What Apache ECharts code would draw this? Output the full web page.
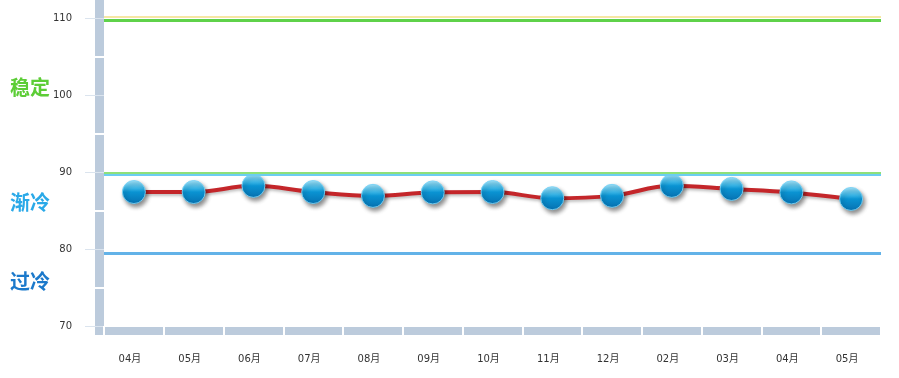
<!DOCTYPE html>
<html>
<head>
<meta charset="utf-8">
<script src="https://cdn.jsdelivr.net/npm/echarts@6/dist/echarts.min.js"></script>
<style>
  html, body { margin: 0; padding: 0; background: #fff; }
  #main { width: 899px; height: 378px; }
</style>
</head>
<body>
<div id="main"></div>
<script>
// 月份
var months = ['04月', '05月', '06月', '07月', '08月', '09月', '10月', '11月', '12月', '02月', '03月', '04月', '05月']
// 数值
var values = [87.4, 87.4, 88.2, 87.4, 86.9, 87.35, 87.4, 86.6, 86.9, 88.2, 87.8, 87.35, 86.5]
// 分区线
var lineValues = [110.1, 109.75, 89.85, 89.6, 79.5]
var lineColors = ['#f6e7a4', '#5fd24a', '#8ee07a', '#6ccdf2', '#62b2e8']
var lineWidths = [2, 3, 3, 2, 3]
// 刻度
var yMin = 70
var yMax = 120
var yStep = 10

var chart = echarts.init(document.getElementById('main'))

var barColor = '#bccbdc'
var font = '"DejaVu Sans", "Noto Sans CJK SC", sans-serif'

var markData = lineValues.map(function (v, i) {
  return {
    yAxis: v,
    lineStyle: { color: lineColors[i], width: lineWidths[i], type: 'solid' }
  }
})

chart.setOption({
  animation: false,
  backgroundColor: '#fff',
  grid: {
    left: 104,
    right: 18,
    top: -59,
    bottom: 52,
    outerBoundsMode: 'none'
  },
  graphic: [
    { type: 'rect', shape: { x: 95, y: 327, width: 9, height: 8 }, style: { fill: barColor } },
    { type: 'text', left: 10, top: 77, style: { text: '稳定', fill: '#5ccd36', font: 'bold 20px "Noto Sans CJK SC"' } },
    { type: 'text', left: 10, top: 192, style: { text: '渐冷', fill: '#2aa9e8', font: 'bold 20px "Noto Sans CJK SC"' } },
    { type: 'text', left: 10, top: 271, style: { text: '过冷', fill: '#1b79cb', font: 'bold 20px "Noto Sans CJK SC"' } }
  ],
  xAxis: [
    {
      type: 'category',
      data: months,
      offset: 5,
      axisLine: { show: true, lineStyle: { color: barColor, width: 8, cap: 'butt' } },
      axisTick: { show: false },
      axisLabel: { color: '#333', fontSize: 10, margin: 23, fontFamily: font, padding: [0, 8, 0, 0] },
      splitLine: { show: false }
    },
    {
      type: 'category',
      data: months,
      position: 'bottom',
      offset: 0,
      z: 5,
      axisLine: { show: false },
      axisTick: { show: true, length: 10, lineStyle: { color: '#fff', width: 2 } },
      axisLabel: { show: false },
      splitLine: { show: false }
    }
  ],
  yAxis: [
    {
      type: 'value',
      min: yMin,
      max: yMax,
      interval: yStep,
      offset: 4.5,
      axisLine: { show: true, lineStyle: { color: barColor, width: 9 } },
      axisTick: { show: false },
      axisLabel: { show: false },
      splitLine: { show: false }
    },
    {
      type: 'value',
      min: yMin,
      max: yMax,
      interval: yStep,
      position: 'left',
      offset: 0,
      z: 5,
      axisLine: { show: false },
      axisTick: { show: true, length: 19, lineStyle: { color: '#dbe4ee', width: 1 } },
      minorTick: { show: true, splitNumber: 2, length: 9, lineStyle: { color: '#fff', width: 2 } },
      axisLabel: { color: '#333', fontSize: 10, margin: 32, fontFamily: font },
      splitLine: { show: false }
    }
  ],
  series: [
    {
      name: 'lines',
      type: 'line',
      data: [],
      silent: true,
      z: 1,
      markLine: {
        silent: true,
        symbol: 'none',
        label: { show: false },
        animation: false,
        data: markData
      }
    },
    {
      name: 'value',
      type: 'line',
      data: values,
      smooth: 0.4,
      z: 3,
      symbol: 'circle',
      symbolSize: 23,
      lineStyle: {
        color: '#c4262a',
        width: 4,
        shadowColor: 'rgba(0,0,0,0.25)',
        shadowBlur: 3,
        shadowOffsetY: 2
      },
      itemStyle: {
        color: {
          type: 'linear',
          x: 0, y: 0, x2: 0, y2: 1,
          colorStops: [
            { offset: 0, color: '#a8e6fb' },
            { offset: 0.35, color: '#38b4e6' },
            { offset: 0.5, color: '#0a93d2' },
            { offset: 1, color: '#0670b0' }
          ]
        },
        borderColor: 'rgba(120,210,245,0.9)',
        borderWidth: 1,
        shadowColor: 'rgba(0,0,0,0.45)',
        shadowBlur: 4,
        shadowOffsetX: 2,
        shadowOffsetY: 3
      }
    }
  ]
})
</script>
</body>
</html>
